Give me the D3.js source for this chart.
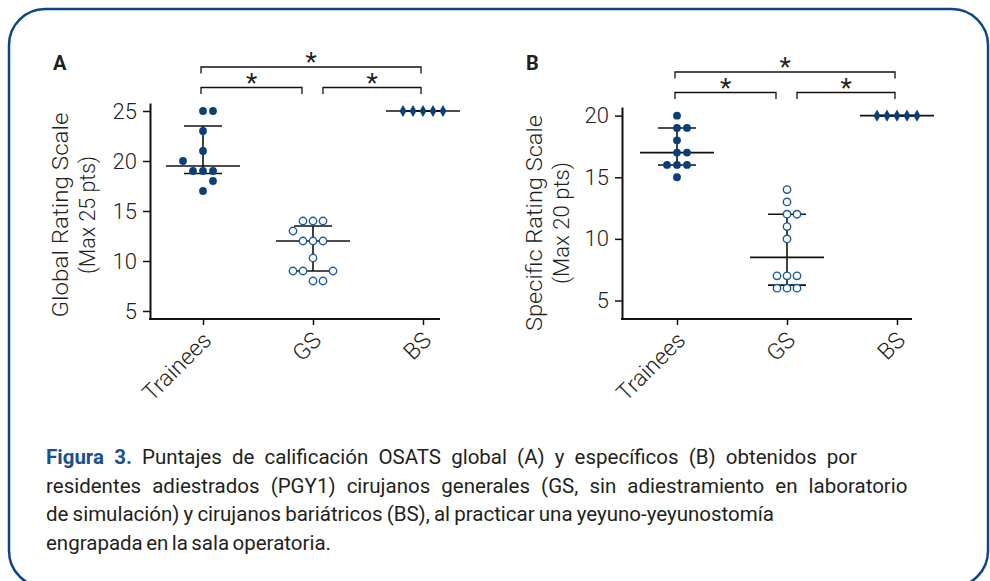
<!DOCTYPE html>
<html>
<head>
<meta charset="utf-8">
<script src="https://cdn.jsdelivr.net/npm/d3@7"></script>
<style>
  html, body { margin: 0; padding: 0; background: #fff; }
  svg { display: block; }
  text { font-family: Roboto, "Noto Sans", sans-serif; fill: #231f20; }
</style>
</head>
<body>
<svg id="chart" width="990" height="581"></svg>
<script>
// groups on the x axis
let groups = ["Trainees", "GS", "BS"];

// Panel A: Global Rating Scale (Max 25 pts)
let globalTrainees = [25, 25, 23, 21, 20, 19, 19, 19, 18, 17];
let globalTraineesSlot = [0, 1, 0, 0, -2, -1, 0, 1, 1, 0];
let globalGS = [14, 14, 14, 13, 12, 12, 12, 10.3, 9, 9, 9, 8, 8];
let globalGSSlot = [-1, 0, 1, -2, -1, 0, 1, 0, -2, -1, 2, 0, 1];
let globalBS = [25, 25, 25, 25, 25];
let globalBSSlot = [-2, -1, 0, 1, 2];
let globalTicks = [5, 10, 15, 20, 25];

// Panel B: Specific Rating Scale (Max 20 pts)
let specTrainees = [20, 19, 19, 18, 17, 17, 16, 16, 16, 15];
let specTraineesSlot = [0, 0, 1, 0, 0, 1, -1, 0, 1, 0];
let specGS = [14, 13, 12, 12, 11, 10, 7, 7, 7, 6, 6, 6];
let specGSSlot = [0, 0, 0, 1, 0, 0, -1, 0, 1, -1, 0, 1];
let specBS = [20, 20, 20, 20, 20];
let specBSSlot = [-2, -1, 0, 1, 2];
let specTicks = [5, 10, 15, 20];

// significance brackets (group index pairs), all "*"
let comparisons = [[0, 2, "*"], [0, 1, "*"], [1, 2, "*"]];

let captionLines = [
  ["Figura 3.", " Puntajes de calificación OSATS global (A) y específicos (B) obtenidos por"],
  ["", "residentes adiestrados (PGY1) cirujanos generales (GS, sin adiestramiento en laboratorio"],
  ["", "de simulación) y cirujanos bariátricos (BS), al practicar una yeyuno-yeyunostomía"],
  ["", "engrapada en la sala operatoria."]
];
let captionEnds = [857, 958, 774, 331];

let blue = "#0b3f7c";
let svg = d3.select("#chart");

// rounded frame
svg.append("rect")
  .attr("x", 9).attr("y", 9)
  .attr("width", 979).attr("height", 578)
  .attr("rx", 36).attr("ry", 36)
  .attr("fill", "none")
  .attr("stroke", "#0d4585")
  .attr("stroke-width", 2.5);

// GraphPad style quartile (n+1)p
function quart(values, p){
  let s = values.slice().sort((a, b) => a - b);
  let pos = (s.length + 1) * p;
  let lo = Math.floor(pos), frac = pos - lo;
  if (lo < 1) return s[0];
  if (lo >= s.length) return s[s.length - 1];
  return s[lo - 1] + frac * (s[lo] - s[lo - 1]);
}

function drawPanel(cfg){
  let g = svg.append("g").attr("class", "panel");
  let axisBottom = 319;

  let y = d3.scaleLinear().domain(cfg.yDomain).range([axisBottom, cfg.top]);
  let x = d3.scalePoint().domain(groups)
    .range([cfg.left + cfg.firstOffset, cfg.left + cfg.firstOffset + 220]);

  // y axis
  let yAxis = g.append("g")
    .attr("transform", "translate(" + cfg.left + ",0)")
    .call(d3.axisLeft(y).tickValues(cfg.ticks).tickSize(7).tickSizeOuter(0).tickPadding(6));
  yAxis.select(".domain").attr("stroke", "#111").attr("stroke-width", 2);
  yAxis.selectAll(".tick line").attr("stroke", "#111").attr("stroke-width", 1.5);
  yAxis.selectAll(".tick text")
    .attr("font-family", "Roboto, sans-serif")
    .attr("font-size", 22).attr("font-weight", 300)
    .attr("fill", "#231f20");

  // x axis
  let xAxis = g.append("g")
    .attr("transform", "translate(0," + axisBottom + ")")
    .call(d3.axisBottom(x).tickSize(6).tickSizeOuter(0).tickFormat(""));
  xAxis.select(".domain")
    .attr("d", "M" + (cfg.left - 1) + ",0H" + (cfg.left + 290))
    .attr("stroke", "#111").attr("stroke-width", 2);
  xAxis.selectAll(".tick line").attr("stroke", "#111").attr("stroke-width", 1.5);

  g.selectAll(".xlab")
    .data(groups).enter().append("text")
    .attr("class", "xlab")
    .attr("transform", d => "translate(" + (x(d) + 4) + "," + (axisBottom + 17) + ") rotate(-45)")
    .attr("text-anchor", "end")
    .attr("dy", "0.35em")
    .attr("font-size", 23).attr("font-weight", 300)
    .text(d => d);

  // y title, two lines
  let title = g.append("text")
    .attr("transform", "translate(" + cfg.titleX + "," + cfg.titleY + ") rotate(-90)")
    .attr("text-anchor", "middle")
    .attr("font-size", 22).attr("font-weight", 300);
  title.append("tspan").attr("x", 0).attr("y", 0)
    .attr("textLength", cfg.titleLen[0]).attr("lengthAdjust", "spacingAndGlyphs")
    .text(cfg.title[0]);
  title.append("tspan").attr("x", 0).attr("y", 27)
    .attr("textLength", cfg.titleLen[1]).attr("lengthAdjust", "spacingAndGlyphs")
    .text(cfg.title[1]);

  // panel letter
  g.append("text")
    .attr("x", cfg.letterX).attr("y", cfg.letterY)
    .attr("font-family", "'Liberation Sans', Arial, sans-serif")
    .attr("font-weight", "bold").attr("font-size", 20)
    .attr("fill", "#111")
    .text(cfg.letter);

  let slotW = 10;

  // median + interquartile bars
  cfg.series.forEach(function(s, i){
    let cx = x(groups[i]);
    let med = d3.median(s.values);
    let q1 = quart(s.values, 0.25), q3 = quart(s.values, 0.75);
    let bars = g.append("g").attr("class", "summary")
      .attr("stroke", "#111").attr("stroke-width", 1.6);
    bars.append("line").attr("x1", cx).attr("x2", cx).attr("y1", y(q1)).attr("y2", y(q3));
    bars.append("line").attr("x1", cx - 37).attr("x2", cx + 37).attr("y1", y(med)).attr("y2", y(med));
    bars.append("line").attr("x1", cx - 19).attr("x2", cx + 19).attr("y1", y(q1)).attr("y2", y(q1));
    bars.append("line").attr("x1", cx - 19).attr("x2", cx + 19).attr("y1", y(q3)).attr("y2", y(q3));
  });

  // points
  cfg.series.forEach(function(s, i){
    let cx = x(groups[i]);
    let pts = s.values.map((v, k) => ({v: v, slot: s.slots[k]}));
    let pg = g.append("g").attr("class", "points");
    if (s.shape === "filled") {
      pg.selectAll("circle").data(pts).enter().append("circle")
        .attr("cx", d => cx + d.slot * slotW)
        .attr("cy", d => y(d.v))
        .attr("r", 3.9)
        .attr("fill", blue);
    } else if (s.shape === "open") {
      pg.selectAll("circle").data(pts).enter().append("circle")
        .attr("cx", d => cx + d.slot * slotW)
        .attr("cy", d => y(d.v))
        .attr("r", 3.7)
        .attr("fill", "#fff")
        .attr("stroke", "#1d5a9a").attr("stroke-width", 1.4);
    } else {
      let diamond = d3.symbol().type(d3.symbolDiamond).size(42);
      pg.selectAll("path").data(pts).enter().append("path")
        .attr("d", diamond)
        .attr("transform", d => "translate(" + (cx + d.slot * slotW) + "," + y(d.v) + ")")
        .attr("fill", blue);
    }
  });

  // significance brackets
  let br = g.append("g").attr("class", "brackets");
  comparisons.forEach(function(c){
    let top = (c[1] - c[0] === 2);
    let by = top ? cfg.bracketY : cfg.bracketY + 20.5;
    let x1 = x(groups[c[0]]) + (c[0] === 1 ? 10 : -2);
    let x2 = x(groups[c[1]]) + (c[1] === 1 ? -11 : -2);
    br.append("path")
      .attr("d", "M" + x1 + "," + (by + 6.5) + "V" + by + "H" + x2 + "V" + (by + 6.5))
      .attr("fill", "none").attr("stroke", "#111").attr("stroke-width", 1.3);
    br.append("text")
      .attr("x", (x1 + x2) / 2).attr("y", by + 4)
      .attr("text-anchor", "middle")
      .attr("font-family", "'Liberation Sans', Arial, sans-serif")
      .attr("font-size", 26)
      .text(c[2]);
  });
}

drawPanel({
  letter: "A", letterX: 53, letterY: 70,
  left: 150, top: 103, firstOffset: 53,
  yDomain: [4.2, 25.8], ticks: globalTicks,
  title: ["Global Rating Scale", "(Max 25 pts)"], titleLen: [205, 118],
  titleX: 68, titleY: 215,
  bracketY: 67,
  series: [
    {values: globalTrainees, slots: globalTraineesSlot, shape: "filled"},
    {values: globalGS, slots: globalGSSlot, shape: "open"},
    {values: globalBS, slots: globalBSSlot, shape: "diamond"}
  ]
});

drawPanel({
  letter: "B", letterX: 526, letterY: 70,
  left: 622, top: 107, firstOffset: 55,
  yDomain: [3.5, 20.7], ticks: specTicks,
  title: ["Specific Rating Scale", "(Max 20 pts)"], titleLen: [216, 122],
  titleX: 542, titleY: 223,
  bracketY: 72,
  series: [
    {values: specTrainees, slots: specTraineesSlot, shape: "filled"},
    {values: specGS, slots: specGSSlot, shape: "open"},
    {values: specBS, slots: specBSSlot, shape: "diamond"}
  ]
});

// caption: same type size on every line, word gaps nudged toward the original line ends
let cap = svg.append("g").attr("class", "caption");
captionLines.forEach(function(line, i){
  let t = cap.append("text")
    .attr("x", 46).attr("y", 464 + i * 28.6)
    .attr("font-size", 20.5);
  if (line[0]) {
    t.append("tspan").attr("font-weight", 700).attr("fill", "#1a4f8c").text(line[0]);
  }
  t.append("tspan").text(line[1]);
  let natural = t.node().getComputedTextLength();
  let gaps = (line[0] + line[1]).split(" ").length - 1;
  let ws = (captionEnds[i] - 46 - natural) / gaps;
  ws = Math.max(-3, Math.min(6, ws));
  t.attr("word-spacing", ws);
});
</script>
</body>
</html>
